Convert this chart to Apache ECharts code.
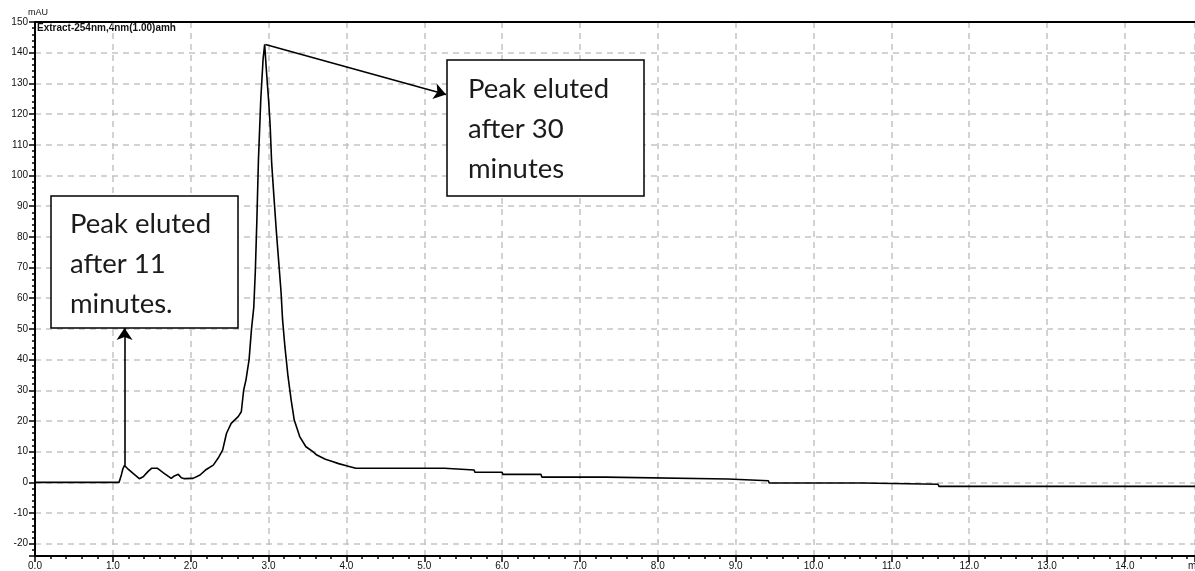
<!DOCTYPE html>
<html>
<head>
<meta charset="utf-8">
<script src="https://cdn.jsdelivr.net/npm/echarts@6/dist/echarts.min.js"></script>
<style>
html,body{margin:0;padding:0;background:#fff;}
#chart{width:1195px;height:571px;}
</style>
</head>
<body>
<div id="chart"></div>
<script>
// retention time (min)
const times = [0, 1.08, 1.11, 1.13, 1.15, 1.2, 1.26, 1.34, 1.39, 1.45, 1.5, 1.57, 1.65, 1.75, 1.79, 1.84, 1.88, 1.92, 2.03, 2.12, 2.2, 2.29, 2.36, 2.41, 2.46, 2.52, 2.61, 2.65, 2.68, 2.71, 2.75, 2.78, 2.81, 2.83, 2.85, 2.87, 2.9, 2.93, 2.95, 2.97, 3.0, 3.02, 3.04, 3.07, 3.1, 3.13, 3.16, 3.18, 3.21, 3.25, 3.29, 3.33, 3.4, 3.48, 3.57, 3.62, 3.73, 3.82, 3.9, 4.0, 4.12, 5.26, 5.27, 5.64, 5.65, 6.0, 6.01, 6.5, 6.51, 7.33, 7.34, 8.9, 8.91, 9.42, 9.43, 10.63, 10.64, 11.6, 11.61, 14.9];
// absorbance (mAU)
const absorbance = [0, 0, 2.5, 4.5, 5.5, 4.2, 2.9, 1.2, 1.8, 3.5, 4.6, 4.6, 3.1, 1.3, 2.1, 2.6, 1.5, 1.2, 1.3, 2.4, 4.2, 5.6, 8.2, 10.5, 16, 19.2, 21.4, 23, 30, 33.4, 40, 49.7, 57, 68.7, 85.6, 105, 124.7, 138, 142.7, 135, 124.7, 116.6, 104, 92.7, 81.8, 72, 62.2, 53, 44.2, 34.5, 26.9, 20.3, 14.9, 11.6, 10, 8.9, 7.5, 6.8, 6.1, 5.4, 4.6, 4.6, 4.0, 4.0, 3.3, 3.3, 2.6, 2.6, 1.7, 1.7, 1.1, 1.1, 0.5, 0.5, -0.2, -0.2, -0.6, -0.6, -1.3, -1.3];

const xRange = [0, 14.9];
const yRange = [-24, 150];
const yAxisName = 'mAU';
const xAxisName = 'min';
const channelLabel = 'Extract-254nm,4nm(1.00)amh';

// annotation arrows: [from, to] in data coords
const arrow1 = [[1.15, 5.5], [1.15, 50.3]];
const arrow2 = [[2.96, 142.7], [5.28, 126.4]];
const note1 = 'Peak eluted\nafter 11\nminutes.';
const note2 = 'Peak eluted\nafter 30\nminutes';

const chart = echarts.init(document.getElementById('chart'), null, {renderer: 'canvas'});

const gridColor = '#c4c4c4';
const labelStyle = {fontSize: 10, color: '#111', fontFamily: 'Liberation Sans'};

const option = {
  animation: false,
  grid: {left: 35, right: 0, top: 22, bottom: 15},
  xAxis: [{
    type: 'value', min: xRange[0], max: xRange[1], interval: 1,
    axisLine: {show: true, onZero: false, lineStyle: {color: '#000', width: 2}},
    axisTick: {show: true, length: 6, lineStyle: {color: '#000', width: 1.5}},
    minorTick: {show: true, splitNumber: 5, length: 3, lineStyle: {color: '#000', width: 1.5}},
    splitLine: {show: true, lineStyle: {color: gridColor, width: 1.5, type: [6, 5]}},
    axisLabel: Object.assign({margin: 5, showMaxLabel: false, formatter: v => v.toFixed(1)}, labelStyle)
  }, {
    type: 'value', position: 'top', min: xRange[0], max: xRange[1],
    axisLine: {show: true, onZero: false, lineStyle: {color: '#000', width: 2}},
    axisTick: {show: false}, axisLabel: {show: false}, splitLine: {show: false}
  }],
  yAxis: {
    type: 'value', min: yRange[0], max: yRange[1], splitNumber: 17, minInterval: 10, maxInterval: 10,
    name: yAxisName, nameLocation: 'end', nameGap: 2,
    nameTextStyle: {fontSize: 9, color: '#111', fontFamily: 'Liberation Sans', align: 'left', padding: [0, 0, -2, -7]},
    axisLine: {show: true, onZero: false, lineStyle: {color: '#000', width: 2}},
    axisTick: {show: true, length: 6, lineStyle: {color: '#000', width: 1.5}},
    minorTick: {show: true, splitNumber: 5, length: 3, lineStyle: {color: '#000', width: 1.5}},
    splitLine: {show: true, lineStyle: {color: gridColor, width: 1.5, type: [6, 5]}},
    axisLabel: Object.assign({margin: 7, showMinLabel: false}, labelStyle)
  },
  series: [{
    type: 'line',
    data: times.map((t, i) => [t, absorbance[i]]),
    showSymbol: false,
    symbol: 'none',
    lineStyle: {color: '#000', width: 1.6},
    silent: true,
    markLine: {
      silent: true,
      animation: false,
      label: {show: false},
      lineStyle: {color: '#000', width: 1.6, type: 'solid'},
      emphasis: {disabled: true},
      symbol: ['none', 'arrow'],
      symbolSize: 12,
      data: [
        [{coord: arrow1[0]}, {coord: arrow1[1]}],
        [{coord: arrow2[0]}, {coord: arrow2[1]}]
      ]
    }
  }],
  graphic: [
    {type: 'text', left: 37, top: 23, silent: true,
     style: {text: channelLabel, fontSize: 10, fontWeight: 'bold', fill: '#111', fontFamily: 'Liberation Sans'}},
    {type: 'text', left: 1188, top: 561, silent: true,
     style: {text: xAxisName, fontSize: 10, fill: '#111', fontFamily: 'Liberation Sans'}},
    {type: 'rect', shape: {x: 51, y: 196, width: 187, height: 132}, z: 100, silent: true,
     style: {fill: '#fff', stroke: '#000', lineWidth: 1.5}},
    {type: 'text', x: 70, y: 204, z: 101, silent: true,
     style: {text: note1, fontSize: 27.5, lineHeight: 40, fill: '#1b1b1b', fontFamily: 'Lato', verticalAlign: 'top'}},
    {type: 'rect', shape: {x: 447, y: 60, width: 197, height: 136}, z: 100, silent: true,
     style: {fill: '#fff', stroke: '#000', lineWidth: 1.5}},
    {type: 'text', x: 468, y: 69, z: 101, silent: true,
     style: {text: note2, fontSize: 27.5, lineHeight: 40, fill: '#1b1b1b', fontFamily: 'Lato', verticalAlign: 'top'}}
  ]
};
chart.setOption(option);
</script>
</body>
</html>
